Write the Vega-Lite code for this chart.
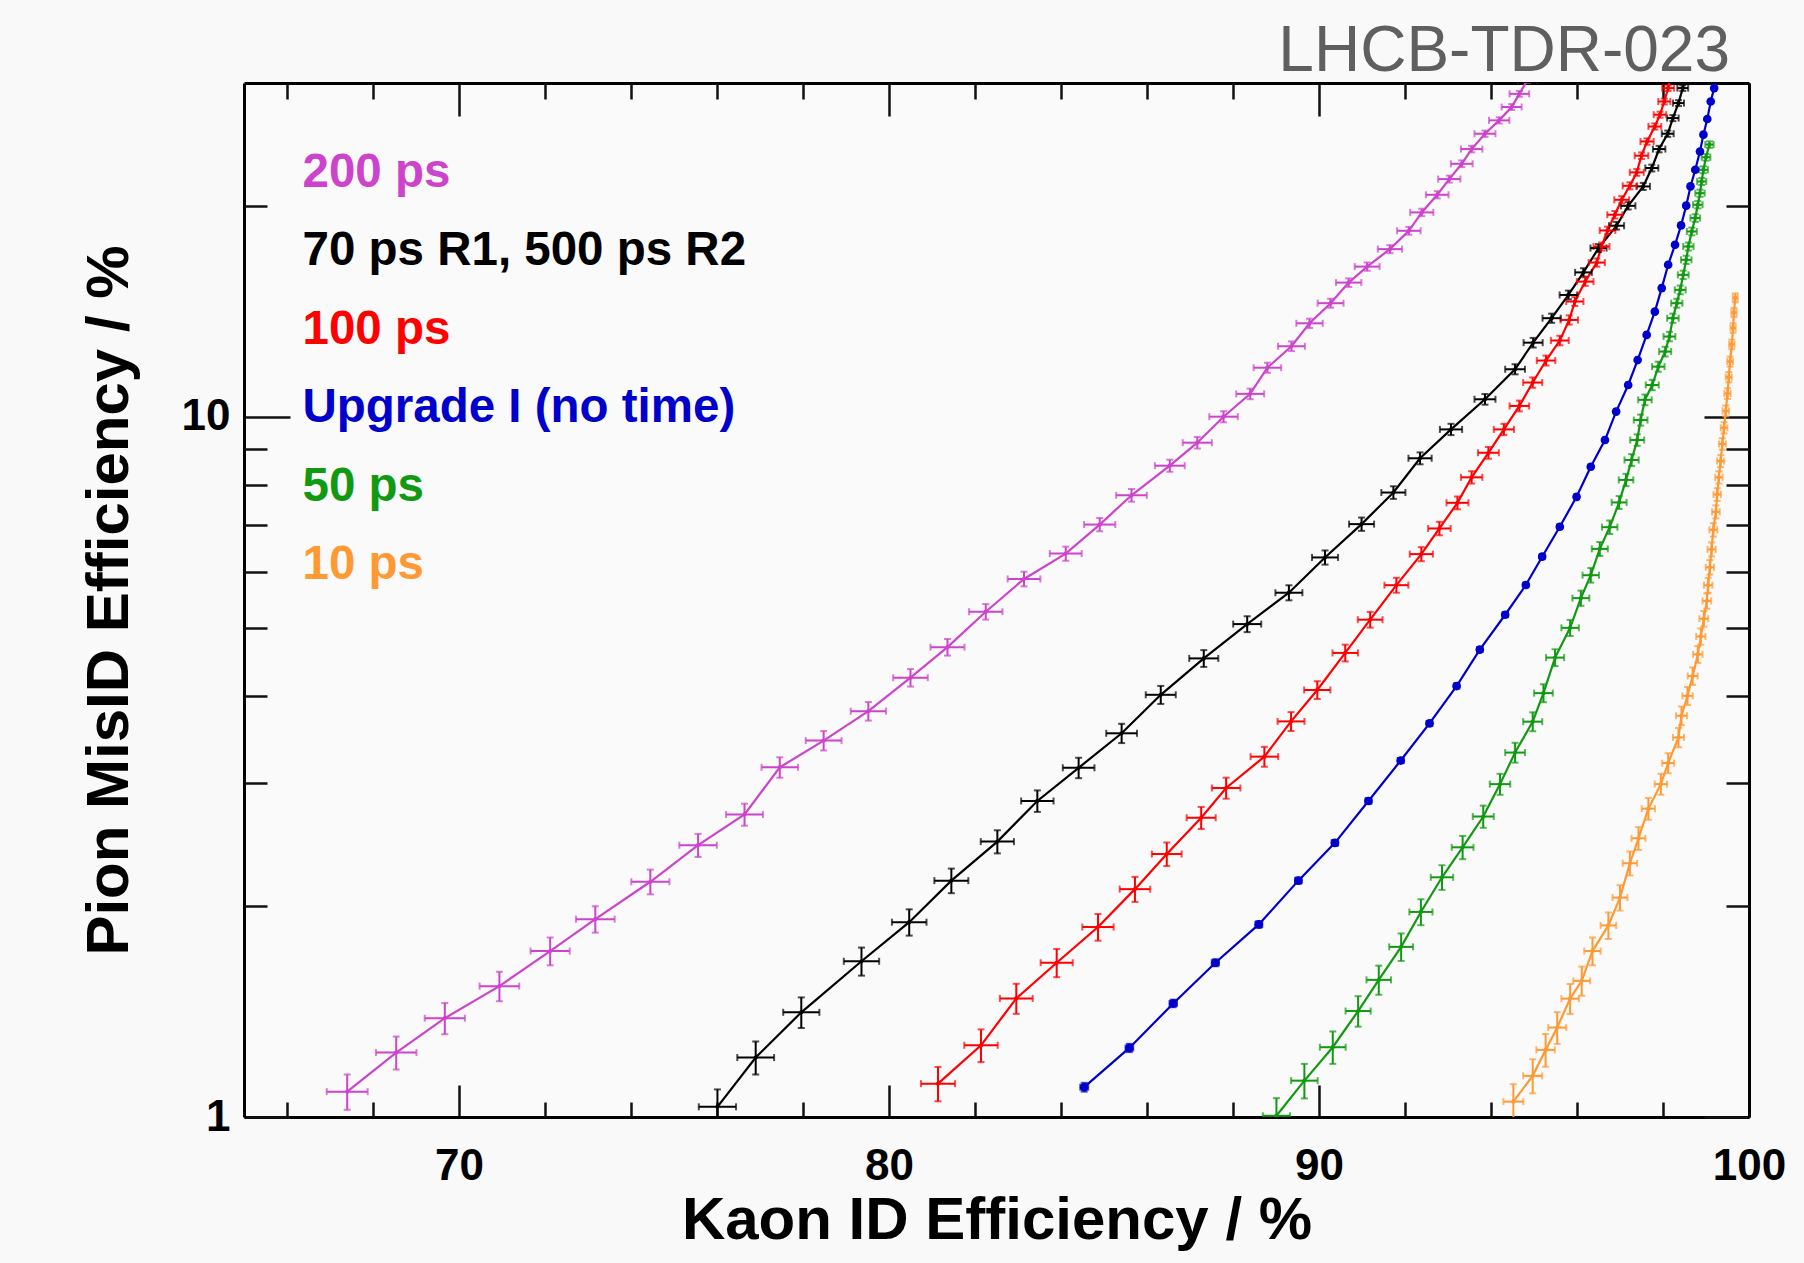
{
  "$schema": "https://vega.github.io/schema/vega-lite/v6.json",
  "width": 1505,
  "height": 1034,
  "autosize": {"type": "none"},
  "padding": {"left": 244, "top": 83, "right": 55, "bottom": 146},
  "background": "#f9f9f9",
  "config": {
    "view": {"stroke": null, "fill": "#fafafa"},
    "axis": {"labelFont": "Liberation Sans", "titleFont": "Liberation Sans", "grid": false}
  },
  "datasets": {
    "curves": [
      {"series": "200 ps", "kaon": 67.40, "pion": 1.087, "kaon_err": 0.476, "pion_err": 0.063},
      {"series": "200 ps", "kaon": 68.54, "pion": 1.236, "kaon_err": 0.471, "pion_err": 0.067},
      {"series": "200 ps", "kaon": 69.67, "pion": 1.384, "kaon_err": 0.467, "pion_err": 0.071},
      {"series": "200 ps", "kaon": 70.94, "pion": 1.538, "kaon_err": 0.461, "pion_err": 0.075},
      {"series": "200 ps", "kaon": 72.12, "pion": 1.726, "kaon_err": 0.455, "pion_err": 0.079},
      {"series": "200 ps", "kaon": 73.17, "pion": 1.917, "kaon_err": 0.450, "pion_err": 0.083},
      {"series": "200 ps", "kaon": 74.45, "pion": 2.168, "kaon_err": 0.443, "pion_err": 0.088},
      {"series": "200 ps", "kaon": 75.56, "pion": 2.445, "kaon_err": 0.436, "pion_err": 0.093},
      {"series": "200 ps", "kaon": 76.64, "pion": 2.705, "kaon_err": 0.429, "pion_err": 0.098},
      {"series": "200 ps", "kaon": 77.46, "pion": 3.159, "kaon_err": 0.424, "pion_err": 0.106},
      {"series": "200 ps", "kaon": 78.48, "pion": 3.449, "kaon_err": 0.417, "pion_err": 0.110},
      {"series": "200 ps", "kaon": 79.52, "pion": 3.80, "kaon_err": 0.410, "pion_err": 0.116},
      {"series": "200 ps", "kaon": 80.50, "pion": 4.242, "kaon_err": 0.402, "pion_err": 0.122},
      {"series": "200 ps", "kaon": 81.36, "pion": 4.69, "kaon_err": 0.395, "pion_err": 0.128},
      {"series": "200 ps", "kaon": 82.25, "pion": 5.27, "kaon_err": 0.388, "pion_err": 0.135},
      {"series": "200 ps", "kaon": 83.14, "pion": 5.87, "kaon_err": 0.380, "pion_err": 0.142},
      {"series": "200 ps", "kaon": 84.11, "pion": 6.38, "kaon_err": 0.371, "pion_err": 0.148},
      {"series": "200 ps", "kaon": 84.90, "pion": 7.02, "kaon_err": 0.363, "pion_err": 0.154},
      {"series": "200 ps", "kaon": 85.64, "pion": 7.73, "kaon_err": 0.356, "pion_err": 0.161},
      {"series": "200 ps", "kaon": 86.53, "pion": 8.52, "kaon_err": 0.347, "pion_err": 0.169},
      {"series": "200 ps", "kaon": 87.17, "pion": 9.19, "kaon_err": 0.339, "pion_err": 0.175},
      {"series": "200 ps", "kaon": 87.78, "pion": 10.01, "kaon_err": 0.332, "pion_err": 0.182},
      {"series": "200 ps", "kaon": 88.40, "pion": 10.79, "kaon_err": 0.325, "pion_err": 0.187},
      {"series": "200 ps", "kaon": 88.80, "pion": 11.76, "kaon_err": 0.320, "pion_err": 0.195},
      {"series": "200 ps", "kaon": 89.36, "pion": 12.62, "kaon_err": 0.313, "pion_err": 0.201},
      {"series": "200 ps", "kaon": 89.78, "pion": 13.61, "kaon_err": 0.307, "pion_err": 0.208},
      {"series": "200 ps", "kaon": 90.27, "pion": 14.54, "kaon_err": 0.301, "pion_err": 0.213},
      {"series": "200 ps", "kaon": 90.69, "pion": 15.56, "kaon_err": 0.295, "pion_err": 0.219},
      {"series": "200 ps", "kaon": 91.12, "pion": 16.40, "kaon_err": 0.289, "pion_err": 0.224},
      {"series": "200 ps", "kaon": 91.65, "pion": 17.37, "kaon_err": 0.281, "pion_err": 0.229},
      {"series": "200 ps", "kaon": 92.09, "pion": 18.45, "kaon_err": 0.274, "pion_err": 0.235},
      {"series": "200 ps", "kaon": 92.39, "pion": 19.60, "kaon_err": 0.269, "pion_err": 0.240},
      {"series": "200 ps", "kaon": 92.75, "pion": 20.77, "kaon_err": 0.263, "pion_err": 0.245},
      {"series": "200 ps", "kaon": 93.03, "pion": 21.87, "kaon_err": 0.258, "pion_err": 0.250},
      {"series": "200 ps", "kaon": 93.32, "pion": 23.0, "kaon_err": 0.253, "pion_err": 0.254},
      {"series": "200 ps", "kaon": 93.55, "pion": 24.14, "kaon_err": 0.249, "pion_err": 0.258},
      {"series": "200 ps", "kaon": 93.86, "pion": 25.39, "kaon_err": 0.244, "pion_err": 0.263},
      {"series": "200 ps", "kaon": 94.19, "pion": 26.53, "kaon_err": 0.237, "pion_err": 0.267},
      {"series": "200 ps", "kaon": 94.48, "pion": 27.72, "kaon_err": 0.232, "pion_err": 0.270},
      {"series": "200 ps", "kaon": 94.66, "pion": 28.95, "kaon_err": 0.228, "pion_err": 0.274},
      {"series": "200 ps", "kaon": 94.85, "pion": 30.3, "kaon_err": 0.224, "pion_err": 0.278},

      {"series": "70 ps R1, 500 ps R2", "kaon": 76.01, "pion": 1.034, "kaon_err": 0.433, "pion_err": 0.061},
      {"series": "70 ps R1, 500 ps R2", "kaon": 76.90, "pion": 1.216, "kaon_err": 0.428, "pion_err": 0.066},
      {"series": "70 ps R1, 500 ps R2", "kaon": 77.96, "pion": 1.411, "kaon_err": 0.421, "pion_err": 0.071},
      {"series": "70 ps R1, 500 ps R2", "kaon": 79.36, "pion": 1.669, "kaon_err": 0.411, "pion_err": 0.077},
      {"series": "70 ps R1, 500 ps R2", "kaon": 80.47, "pion": 1.898, "kaon_err": 0.402, "pion_err": 0.082},
      {"series": "70 ps R1, 500 ps R2", "kaon": 81.45, "pion": 2.176, "kaon_err": 0.395, "pion_err": 0.088},
      {"series": "70 ps R1, 500 ps R2", "kaon": 82.52, "pion": 2.474, "kaon_err": 0.386, "pion_err": 0.094},
      {"series": "70 ps R1, 500 ps R2", "kaon": 83.45, "pion": 2.828, "kaon_err": 0.377, "pion_err": 0.100},
      {"series": "70 ps R1, 500 ps R2", "kaon": 84.41, "pion": 3.154, "kaon_err": 0.368, "pion_err": 0.106},
      {"series": "70 ps R1, 500 ps R2", "kaon": 85.41, "pion": 3.533, "kaon_err": 0.358, "pion_err": 0.112},
      {"series": "70 ps R1, 500 ps R2", "kaon": 86.32, "pion": 4.01, "kaon_err": 0.349, "pion_err": 0.119},
      {"series": "70 ps R1, 500 ps R2", "kaon": 87.32, "pion": 4.52, "kaon_err": 0.338, "pion_err": 0.125},
      {"series": "70 ps R1, 500 ps R2", "kaon": 88.33, "pion": 5.06, "kaon_err": 0.326, "pion_err": 0.132},
      {"series": "70 ps R1, 500 ps R2", "kaon": 89.30, "pion": 5.61, "kaon_err": 0.314, "pion_err": 0.139},
      {"series": "70 ps R1, 500 ps R2", "kaon": 90.14, "pion": 6.30, "kaon_err": 0.303, "pion_err": 0.147},
      {"series": "70 ps R1, 500 ps R2", "kaon": 90.99, "pion": 7.03, "kaon_err": 0.291, "pion_err": 0.154},
      {"series": "70 ps R1, 500 ps R2", "kaon": 91.73, "pion": 7.80, "kaon_err": 0.280, "pion_err": 0.162},
      {"series": "70 ps R1, 500 ps R2", "kaon": 92.35, "pion": 8.73, "kaon_err": 0.270, "pion_err": 0.171},
      {"series": "70 ps R1, 500 ps R2", "kaon": 93.07, "pion": 9.60, "kaon_err": 0.258, "pion_err": 0.178},
      {"series": "70 ps R1, 500 ps R2", "kaon": 93.86, "pion": 10.60, "kaon_err": 0.244, "pion_err": 0.186},
      {"series": "70 ps R1, 500 ps R2", "kaon": 94.56, "pion": 11.70, "kaon_err": 0.230, "pion_err": 0.194},
      {"series": "70 ps R1, 500 ps R2", "kaon": 94.98, "pion": 12.77, "kaon_err": 0.222, "pion_err": 0.202},
      {"series": "70 ps R1, 500 ps R2", "kaon": 95.41, "pion": 13.84, "kaon_err": 0.212, "pion_err": 0.209},
      {"series": "70 ps R1, 500 ps R2", "kaon": 95.80, "pion": 14.94, "kaon_err": 0.204, "pion_err": 0.215},
      {"series": "70 ps R1, 500 ps R2", "kaon": 96.15, "pion": 16.09, "kaon_err": 0.195, "pion_err": 0.222},
      {"series": "70 ps R1, 500 ps R2", "kaon": 96.50, "pion": 17.43, "kaon_err": 0.187, "pion_err": 0.229},
      {"series": "70 ps R1, 500 ps R2", "kaon": 96.92, "pion": 18.76, "kaon_err": 0.175, "pion_err": 0.236},
      {"series": "70 ps R1, 500 ps R2", "kaon": 97.19, "pion": 20.03, "kaon_err": 0.168, "pion_err": 0.242},
      {"series": "70 ps R1, 500 ps R2", "kaon": 97.54, "pion": 21.35, "kaon_err": 0.157, "pion_err": 0.248},
      {"series": "70 ps R1, 500 ps R2", "kaon": 97.74, "pion": 22.68, "kaon_err": 0.151, "pion_err": 0.253},
      {"series": "70 ps R1, 500 ps R2", "kaon": 97.91, "pion": 24.14, "kaon_err": 0.145, "pion_err": 0.258},
      {"series": "70 ps R1, 500 ps R2", "kaon": 98.11, "pion": 25.39, "kaon_err": 0.138, "pion_err": 0.263},
      {"series": "70 ps R1, 500 ps R2", "kaon": 98.23, "pion": 26.73, "kaon_err": 0.134, "pion_err": 0.267},
      {"series": "70 ps R1, 500 ps R2", "kaon": 98.36, "pion": 28.08, "kaon_err": 0.129, "pion_err": 0.271},
      {"series": "70 ps R1, 500 ps R2", "kaon": 98.46, "pion": 29.5, "kaon_err": 0.125, "pion_err": 0.275},
      {"series": "70 ps R1, 500 ps R2", "kaon": 98.52, "pion": 30.6, "kaon_err": 0.123, "pion_err": 0.278},

      {"series": "100 ps", "kaon": 81.14, "pion": 1.116, "kaon_err": 0.397, "pion_err": 0.063},
      {"series": "100 ps", "kaon": 82.14, "pion": 1.266, "kaon_err": 0.389, "pion_err": 0.068},
      {"series": "100 ps", "kaon": 82.96, "pion": 1.477, "kaon_err": 0.382, "pion_err": 0.073},
      {"series": "100 ps", "kaon": 83.90, "pion": 1.661, "kaon_err": 0.373, "pion_err": 0.077},
      {"series": "100 ps", "kaon": 84.86, "pion": 1.868, "kaon_err": 0.364, "pion_err": 0.082},
      {"series": "100 ps", "kaon": 85.72, "pion": 2.116, "kaon_err": 0.355, "pion_err": 0.087},
      {"series": "100 ps", "kaon": 86.46, "pion": 2.375, "kaon_err": 0.347, "pion_err": 0.092},
      {"series": "100 ps", "kaon": 87.26, "pion": 2.676, "kaon_err": 0.338, "pion_err": 0.097},
      {"series": "100 ps", "kaon": 87.84, "pion": 2.951, "kaon_err": 0.332, "pion_err": 0.102},
      {"series": "100 ps", "kaon": 88.73, "pion": 3.272, "kaon_err": 0.321, "pion_err": 0.107},
      {"series": "100 ps", "kaon": 89.35, "pion": 3.674, "kaon_err": 0.313, "pion_err": 0.114},
      {"series": "100 ps", "kaon": 89.96, "pion": 4.074, "kaon_err": 0.305, "pion_err": 0.119},
      {"series": "100 ps", "kaon": 90.61, "pion": 4.602, "kaon_err": 0.296, "pion_err": 0.127},
      {"series": "100 ps", "kaon": 91.19, "pion": 5.134, "kaon_err": 0.288, "pion_err": 0.133},
      {"series": "100 ps", "kaon": 91.80, "pion": 5.751, "kaon_err": 0.278, "pion_err": 0.141},
      {"series": "100 ps", "kaon": 92.38, "pion": 6.37, "kaon_err": 0.269, "pion_err": 0.147},
      {"series": "100 ps", "kaon": 92.80, "pion": 6.93, "kaon_err": 0.262, "pion_err": 0.153},
      {"series": "100 ps", "kaon": 93.22, "pion": 7.54, "kaon_err": 0.255, "pion_err": 0.159},
      {"series": "100 ps", "kaon": 93.55, "pion": 8.20, "kaon_err": 0.249, "pion_err": 0.166},
      {"series": "100 ps", "kaon": 93.94, "pion": 8.89, "kaon_err": 0.242, "pion_err": 0.172},
      {"series": "100 ps", "kaon": 94.30, "pion": 9.60, "kaon_err": 0.235, "pion_err": 0.178},
      {"series": "100 ps", "kaon": 94.66, "pion": 10.37, "kaon_err": 0.228, "pion_err": 0.184},
      {"series": "100 ps", "kaon": 94.97, "pion": 11.20, "kaon_err": 0.222, "pion_err": 0.190},
      {"series": "100 ps", "kaon": 95.28, "pion": 12.04, "kaon_err": 0.215, "pion_err": 0.197},
      {"series": "100 ps", "kaon": 95.60, "pion": 12.86, "kaon_err": 0.208, "pion_err": 0.202},
      {"series": "100 ps", "kaon": 95.82, "pion": 13.76, "kaon_err": 0.203, "pion_err": 0.208},
      {"series": "100 ps", "kaon": 95.95, "pion": 14.62, "kaon_err": 0.200, "pion_err": 0.213},
      {"series": "100 ps", "kaon": 96.19, "pion": 15.61, "kaon_err": 0.194, "pion_err": 0.219},
      {"series": "100 ps", "kaon": 96.46, "pion": 16.62, "kaon_err": 0.188, "pion_err": 0.225},
      {"series": "100 ps", "kaon": 96.57, "pion": 17.52, "kaon_err": 0.185, "pion_err": 0.230},
      {"series": "100 ps", "kaon": 96.71, "pion": 18.47, "kaon_err": 0.181, "pion_err": 0.234},
      {"series": "100 ps", "kaon": 96.88, "pion": 19.45, "kaon_err": 0.176, "pion_err": 0.239},
      {"series": "100 ps", "kaon": 97.04, "pion": 20.43, "kaon_err": 0.172, "pion_err": 0.244},
      {"series": "100 ps", "kaon": 97.23, "pion": 21.39, "kaon_err": 0.167, "pion_err": 0.248},
      {"series": "100 ps", "kaon": 97.39, "pion": 22.36, "kaon_err": 0.162, "pion_err": 0.252},
      {"series": "100 ps", "kaon": 97.50, "pion": 23.62, "kaon_err": 0.158, "pion_err": 0.257},
      {"series": "100 ps", "kaon": 97.63, "pion": 24.75, "kaon_err": 0.154, "pion_err": 0.261},
      {"series": "100 ps", "kaon": 97.81, "pion": 26.0, "kaon_err": 0.149, "pion_err": 0.265},
      {"series": "100 ps", "kaon": 97.93, "pion": 27.03, "kaon_err": 0.145, "pion_err": 0.268},
      {"series": "100 ps", "kaon": 98.03, "pion": 28.23, "kaon_err": 0.141, "pion_err": 0.272},
      {"series": "100 ps", "kaon": 98.12, "pion": 29.5, "kaon_err": 0.138, "pion_err": 0.275},
      {"series": "100 ps", "kaon": 98.17, "pion": 30.6, "kaon_err": 0.136, "pion_err": 0.278},

      {"series": "Upgrade I (no time)", "kaon": 84.54, "pion": 1.103, "kaon_err": 0.092, "pion_err": 0.016},
      {"series": "Upgrade I (no time)", "kaon": 85.59, "pion": 1.255, "kaon_err": 0.089, "pion_err": 0.017},
      {"series": "Upgrade I (no time)", "kaon": 86.61, "pion": 1.453, "kaon_err": 0.086, "pion_err": 0.018},
      {"series": "Upgrade I (no time)", "kaon": 87.59, "pion": 1.661, "kaon_err": 0.084, "pion_err": 0.019},
      {"series": "Upgrade I (no time)", "kaon": 88.60, "pion": 1.884, "kaon_err": 0.081, "pion_err": 0.021},
      {"series": "Upgrade I (no time)", "kaon": 89.52, "pion": 2.176, "kaon_err": 0.078, "pion_err": 0.022},
      {"series": "Upgrade I (no time)", "kaon": 90.37, "pion": 2.464, "kaon_err": 0.075, "pion_err": 0.023},
      {"series": "Upgrade I (no time)", "kaon": 91.15, "pion": 2.828, "kaon_err": 0.072, "pion_err": 0.025},
      {"series": "Upgrade I (no time)", "kaon": 91.90, "pion": 3.23, "kaon_err": 0.069, "pion_err": 0.027},
      {"series": "Upgrade I (no time)", "kaon": 92.57, "pion": 3.65, "kaon_err": 0.067, "pion_err": 0.028},
      {"series": "Upgrade I (no time)", "kaon": 93.20, "pion": 4.127, "kaon_err": 0.064, "pion_err": 0.030},
      {"series": "Upgrade I (no time)", "kaon": 93.74, "pion": 4.653, "kaon_err": 0.061, "pion_err": 0.032},
      {"series": "Upgrade I (no time)", "kaon": 94.33, "pion": 5.218, "kaon_err": 0.059, "pion_err": 0.034},
      {"series": "Upgrade I (no time)", "kaon": 94.81, "pion": 5.754, "kaon_err": 0.056, "pion_err": 0.035},
      {"series": "Upgrade I (no time)", "kaon": 95.19, "pion": 6.316, "kaon_err": 0.054, "pion_err": 0.037},
      {"series": "Upgrade I (no time)", "kaon": 95.60, "pion": 6.97, "kaon_err": 0.052, "pion_err": 0.038},
      {"series": "Upgrade I (no time)", "kaon": 95.99, "pion": 7.69, "kaon_err": 0.050, "pion_err": 0.040},
      {"series": "Upgrade I (no time)", "kaon": 96.32, "pion": 8.49, "kaon_err": 0.048, "pion_err": 0.042},
      {"series": "Upgrade I (no time)", "kaon": 96.65, "pion": 9.27, "kaon_err": 0.046, "pion_err": 0.044},
      {"series": "Upgrade I (no time)", "kaon": 96.91, "pion": 10.18, "kaon_err": 0.044, "pion_err": 0.046},
      {"series": "Upgrade I (no time)", "kaon": 97.19, "pion": 11.11, "kaon_err": 0.042, "pion_err": 0.047},
      {"series": "Upgrade I (no time)", "kaon": 97.41, "pion": 12.06, "kaon_err": 0.040, "pion_err": 0.049},
      {"series": "Upgrade I (no time)", "kaon": 97.62, "pion": 13.10, "kaon_err": 0.039, "pion_err": 0.051},
      {"series": "Upgrade I (no time)", "kaon": 97.81, "pion": 14.14, "kaon_err": 0.037, "pion_err": 0.053},
      {"series": "Upgrade I (no time)", "kaon": 97.97, "pion": 15.28, "kaon_err": 0.036, "pion_err": 0.054},
      {"series": "Upgrade I (no time)", "kaon": 98.12, "pion": 16.50, "kaon_err": 0.034, "pion_err": 0.056},
      {"series": "Upgrade I (no time)", "kaon": 98.28, "pion": 17.62, "kaon_err": 0.033, "pion_err": 0.058},
      {"series": "Upgrade I (no time)", "kaon": 98.42, "pion": 18.78, "kaon_err": 0.032, "pion_err": 0.059},
      {"series": "Upgrade I (no time)", "kaon": 98.54, "pion": 20.04, "kaon_err": 0.030, "pion_err": 0.060},
      {"series": "Upgrade I (no time)", "kaon": 98.64, "pion": 21.35, "kaon_err": 0.029, "pion_err": 0.062},
      {"series": "Upgrade I (no time)", "kaon": 98.75, "pion": 22.55, "kaon_err": 0.028, "pion_err": 0.063},
      {"series": "Upgrade I (no time)", "kaon": 98.86, "pion": 23.95, "kaon_err": 0.027, "pion_err": 0.064},
      {"series": "Upgrade I (no time)", "kaon": 98.94, "pion": 25.31, "kaon_err": 0.026, "pion_err": 0.066},
      {"series": "Upgrade I (no time)", "kaon": 99.03, "pion": 26.65, "kaon_err": 0.025, "pion_err": 0.067},
      {"series": "Upgrade I (no time)", "kaon": 99.11, "pion": 28.23, "kaon_err": 0.024, "pion_err": 0.068},
      {"series": "Upgrade I (no time)", "kaon": 99.19, "pion": 29.5, "kaon_err": 0.023, "pion_err": 0.069},
      {"series": "Upgrade I (no time)", "kaon": 99.24, "pion": 30.7, "kaon_err": 0.022, "pion_err": 0.070},

      {"series": "50 ps", "kaon": 89.01, "pion": 1.004, "kaon_err": 0.317, "pion_err": 0.060},
      {"series": "50 ps", "kaon": 89.66, "pion": 1.127, "kaon_err": 0.309, "pion_err": 0.064},
      {"series": "50 ps", "kaon": 90.32, "pion": 1.258, "kaon_err": 0.300, "pion_err": 0.067},
      {"series": "50 ps", "kaon": 90.91, "pion": 1.417, "kaon_err": 0.292, "pion_err": 0.071},
      {"series": "50 ps", "kaon": 91.39, "pion": 1.570, "kaon_err": 0.285, "pion_err": 0.075},
      {"series": "50 ps", "kaon": 91.91, "pion": 1.750, "kaon_err": 0.277, "pion_err": 0.079},
      {"series": "50 ps", "kaon": 92.37, "pion": 1.963, "kaon_err": 0.269, "pion_err": 0.084},
      {"series": "50 ps", "kaon": 92.86, "pion": 2.20, "kaon_err": 0.261, "pion_err": 0.089},
      {"series": "50 ps", "kaon": 93.34, "pion": 2.428, "kaon_err": 0.253, "pion_err": 0.093},
      {"series": "50 ps", "kaon": 93.82, "pion": 2.687, "kaon_err": 0.244, "pion_err": 0.098},
      {"series": "50 ps", "kaon": 94.21, "pion": 2.989, "kaon_err": 0.237, "pion_err": 0.103},
      {"series": "50 ps", "kaon": 94.56, "pion": 3.316, "kaon_err": 0.230, "pion_err": 0.108},
      {"series": "50 ps", "kaon": 94.97, "pion": 3.671, "kaon_err": 0.222, "pion_err": 0.114},
      {"series": "50 ps", "kaon": 95.22, "pion": 4.032, "kaon_err": 0.217, "pion_err": 0.119},
      {"series": "50 ps", "kaon": 95.49, "pion": 4.532, "kaon_err": 0.211, "pion_err": 0.126},
      {"series": "50 ps", "kaon": 95.84, "pion": 4.998, "kaon_err": 0.203, "pion_err": 0.132},
      {"series": "50 ps", "kaon": 96.09, "pion": 5.511, "kaon_err": 0.197, "pion_err": 0.138},
      {"series": "50 ps", "kaon": 96.32, "pion": 5.943, "kaon_err": 0.191, "pion_err": 0.143},
      {"series": "50 ps", "kaon": 96.53, "pion": 6.48, "kaon_err": 0.186, "pion_err": 0.149},
      {"series": "50 ps", "kaon": 96.76, "pion": 6.96, "kaon_err": 0.180, "pion_err": 0.154},
      {"series": "50 ps", "kaon": 96.98, "pion": 7.55, "kaon_err": 0.174, "pion_err": 0.160},
      {"series": "50 ps", "kaon": 97.14, "pion": 8.13, "kaon_err": 0.169, "pion_err": 0.165},
      {"series": "50 ps", "kaon": 97.27, "pion": 8.68, "kaon_err": 0.165, "pion_err": 0.170},
      {"series": "50 ps", "kaon": 97.40, "pion": 9.27, "kaon_err": 0.162, "pion_err": 0.175},
      {"series": "50 ps", "kaon": 97.48, "pion": 9.90, "kaon_err": 0.159, "pion_err": 0.180},
      {"series": "50 ps", "kaon": 97.58, "pion": 10.58, "kaon_err": 0.156, "pion_err": 0.186},
      {"series": "50 ps", "kaon": 97.75, "pion": 11.11, "kaon_err": 0.151, "pion_err": 0.190},
      {"series": "50 ps", "kaon": 97.89, "pion": 11.80, "kaon_err": 0.146, "pion_err": 0.195},
      {"series": "50 ps", "kaon": 98.05, "pion": 12.40, "kaon_err": 0.140, "pion_err": 0.199},
      {"series": "50 ps", "kaon": 98.15, "pion": 13.03, "kaon_err": 0.137, "pion_err": 0.203},
      {"series": "50 ps", "kaon": 98.23, "pion": 13.84, "kaon_err": 0.134, "pion_err": 0.209},
      {"series": "50 ps", "kaon": 98.32, "pion": 14.54, "kaon_err": 0.130, "pion_err": 0.213},
      {"series": "50 ps", "kaon": 98.40, "pion": 15.19, "kaon_err": 0.127, "pion_err": 0.217},
      {"series": "50 ps", "kaon": 98.47, "pion": 15.96, "kaon_err": 0.125, "pion_err": 0.221},
      {"series": "50 ps", "kaon": 98.54, "pion": 16.77, "kaon_err": 0.122, "pion_err": 0.226},
      {"series": "50 ps", "kaon": 98.59, "pion": 17.52, "kaon_err": 0.120, "pion_err": 0.230},
      {"series": "50 ps", "kaon": 98.67, "pion": 18.41, "kaon_err": 0.116, "pion_err": 0.234},
      {"series": "50 ps", "kaon": 98.75, "pion": 19.24, "kaon_err": 0.113, "pion_err": 0.238},
      {"series": "50 ps", "kaon": 98.81, "pion": 20.10, "kaon_err": 0.110, "pion_err": 0.242},
      {"series": "50 ps", "kaon": 98.86, "pion": 20.88, "kaon_err": 0.108, "pion_err": 0.246},
      {"series": "50 ps", "kaon": 98.90, "pion": 21.70, "kaon_err": 0.106, "pion_err": 0.249},
      {"series": "50 ps", "kaon": 98.94, "pion": 22.55, "kaon_err": 0.104, "pion_err": 0.252},
      {"series": "50 ps", "kaon": 99.00, "pion": 23.5, "kaon_err": 0.101, "pion_err": 0.256},
      {"series": "50 ps", "kaon": 99.08, "pion": 24.5, "kaon_err": 0.097, "pion_err": 0.260},

      {"series": "10 ps", "kaon": 94.52, "pion": 1.052, "kaon_err": 0.231, "pion_err": 0.062},
      {"series": "10 ps", "kaon": 94.97, "pion": 1.145, "kaon_err": 0.222, "pion_err": 0.064},
      {"series": "10 ps", "kaon": 95.27, "pion": 1.247, "kaon_err": 0.215, "pion_err": 0.067},
      {"series": "10 ps", "kaon": 95.54, "pion": 1.342, "kaon_err": 0.210, "pion_err": 0.070},
      {"series": "10 ps", "kaon": 95.84, "pion": 1.476, "kaon_err": 0.203, "pion_err": 0.073},
      {"series": "10 ps", "kaon": 96.11, "pion": 1.565, "kaon_err": 0.196, "pion_err": 0.075},
      {"series": "10 ps", "kaon": 96.36, "pion": 1.726, "kaon_err": 0.190, "pion_err": 0.079},
      {"series": "10 ps", "kaon": 96.73, "pion": 1.878, "kaon_err": 0.181, "pion_err": 0.082},
      {"series": "10 ps", "kaon": 97.00, "pion": 2.058, "kaon_err": 0.173, "pion_err": 0.086},
      {"series": "10 ps", "kaon": 97.23, "pion": 2.304, "kaon_err": 0.167, "pion_err": 0.091},
      {"series": "10 ps", "kaon": 97.43, "pion": 2.501, "kaon_err": 0.161, "pion_err": 0.094},
      {"series": "10 ps", "kaon": 97.66, "pion": 2.757, "kaon_err": 0.153, "pion_err": 0.099},
      {"series": "10 ps", "kaon": 97.95, "pion": 2.989, "kaon_err": 0.144, "pion_err": 0.103},
      {"series": "10 ps", "kaon": 98.12, "pion": 3.203, "kaon_err": 0.138, "pion_err": 0.106},
      {"series": "10 ps", "kaon": 98.36, "pion": 3.485, "kaon_err": 0.129, "pion_err": 0.111},
      {"series": "10 ps", "kaon": 98.43, "pion": 3.743, "kaon_err": 0.126, "pion_err": 0.115},
      {"series": "10 ps", "kaon": 98.57, "pion": 3.996, "kaon_err": 0.120, "pion_err": 0.118},
      {"series": "10 ps", "kaon": 98.69, "pion": 4.265, "kaon_err": 0.115, "pion_err": 0.122},
      {"series": "10 ps", "kaon": 98.81, "pion": 4.58, "kaon_err": 0.110, "pion_err": 0.126},
      {"series": "10 ps", "kaon": 98.88, "pion": 4.858, "kaon_err": 0.107, "pion_err": 0.130},
      {"series": "10 ps", "kaon": 98.95, "pion": 5.15, "kaon_err": 0.103, "pion_err": 0.133},
      {"series": "10 ps", "kaon": 99.02, "pion": 5.46, "kaon_err": 0.100, "pion_err": 0.137},
      {"series": "10 ps", "kaon": 99.05, "pion": 5.75, "kaon_err": 0.098, "pion_err": 0.141},
      {"series": "10 ps", "kaon": 99.09, "pion": 6.10, "kaon_err": 0.096, "pion_err": 0.145},
      {"series": "10 ps", "kaon": 99.13, "pion": 6.47, "kaon_err": 0.094, "pion_err": 0.149},
      {"series": "10 ps", "kaon": 99.17, "pion": 6.90, "kaon_err": 0.092, "pion_err": 0.153},
      {"series": "10 ps", "kaon": 99.23, "pion": 7.32, "kaon_err": 0.089, "pion_err": 0.157},
      {"series": "10 ps", "kaon": 99.26, "pion": 7.75, "kaon_err": 0.087, "pion_err": 0.162},
      {"series": "10 ps", "kaon": 99.30, "pion": 8.2, "kaon_err": 0.085, "pion_err": 0.166},
      {"series": "10 ps", "kaon": 99.34, "pion": 8.65, "kaon_err": 0.082, "pion_err": 0.170},
      {"series": "10 ps", "kaon": 99.38, "pion": 9.15, "kaon_err": 0.080, "pion_err": 0.174},
      {"series": "10 ps", "kaon": 99.42, "pion": 9.65, "kaon_err": 0.077, "pion_err": 0.178},
      {"series": "10 ps", "kaon": 99.46, "pion": 10.2, "kaon_err": 0.074, "pion_err": 0.183},
      {"series": "10 ps", "kaon": 99.50, "pion": 10.8, "kaon_err": 0.072, "pion_err": 0.187},
      {"series": "10 ps", "kaon": 99.53, "pion": 11.4, "kaon_err": 0.069, "pion_err": 0.192},
      {"series": "10 ps", "kaon": 99.56, "pion": 12.0, "kaon_err": 0.067, "pion_err": 0.196},
      {"series": "10 ps", "kaon": 99.60, "pion": 12.7, "kaon_err": 0.064, "pion_err": 0.201},
      {"series": "10 ps", "kaon": 99.63, "pion": 13.4, "kaon_err": 0.062, "pion_err": 0.206},
      {"series": "10 ps", "kaon": 99.65, "pion": 14.1, "kaon_err": 0.060, "pion_err": 0.210},
      {"series": "10 ps", "kaon": 99.68, "pion": 14.8, "kaon_err": 0.057, "pion_err": 0.214}
    ]
  },
  "data": {"name": "curves"},
  "layer": [
    {
      "mark": {"type": "line", "strokeWidth": 2.2, "clip": true},
      "encoding": {
        "x": {
          "field": "kaon", "type": "quantitative",
          "scale": {"domain": [65, 100], "nice": false, "zero": false},
          "axis": {
            "orient": "bottom", "values": [70, 80, 90, 100], "format": "d", "labelFlush": false,
            "tickSize": -32, "tickWidth": 2.5, "tickColor": "#111111",
            "domain": true, "domainWidth": 3, "domainColor": "#000000",
            "labelFontSize": 44, "labelFontWeight": "bold", "labelColor": "#000000", "labelPadding": 59,
            "title": "Kaon ID Efficiency / %", "titleFontSize": 60, "titleFontWeight": "bold", "titleColor": "#000000",
            "titleBaseline": "alphabetic", "titleY": 121
          }
        },
        "y": {
          "field": "pion", "type": "quantitative",
          "scale": {"type": "log", "domain": [1, 30], "nice": false},
          "axis": {
            "orient": "left", "values": [1, 10], "format": "d", "labelFlush": false,
            "tickSize": -46, "tickWidth": 2.5, "tickColor": "#111111",
            "domain": true, "domainWidth": 3, "domainColor": "#000000",
            "labelFontSize": 44, "labelFontWeight": "bold", "labelColor": "#000000", "labelPadding": 60,
            "title": "Pion MisID Efficiency / %", "titleFontSize": 60, "titleFontWeight": "bold", "titleColor": "#000000",
            "titleBaseline": "alphabetic", "titleX": -117
          }
        },
        "color": {
          "field": "series", "type": "nominal",
          "scale": {
            "domain": ["200 ps", "70 ps R1, 500 ps R2", "100 ps", "Upgrade I (no time)", "50 ps", "10 ps"],
            "range": ["#cc44cc", "#000000", "#ff0000", "#0000cc", "#119911", "#ff9933"]
          },
          "legend": {
            "orient": "none", "legendX": 11, "legendY": 66, "title": null, "padding": 0,
            "labelFont": "Liberation Sans", "labelFontSize": 47.5, "labelFontWeight": "bold",
            "labelColor": {"expr": "scale('color', datum.value)"},
            "labelLimit": 1000, "labelOffset": 0,
            "symbolOpacity": 0, "symbolSize": 0, "symbolStrokeWidth": 0,
            "rowPadding": 29.5
          }
        }
      }
    },
    {
      "mark": {"type": "errorbar", "ticks": true, "size": 7, "thickness": 2, "clip": true},
      "encoding": {
        "x": {"field": "kaon", "type": "quantitative", "scale": {"domain": [65, 100], "nice": false, "zero": false}, "axis": null},
        "xError": {"field": "kaon_err"},
        "y": {"field": "pion", "type": "quantitative", "scale": {"type": "log", "domain": [1, 30], "nice": false}, "axis": null},
        "color": {"field": "series", "type": "nominal", "legend": null}
      }
    },
    {
      "mark": {"type": "errorbar", "ticks": true, "size": 7, "thickness": 2, "clip": true},
      "encoding": {
        "x": {"field": "kaon", "type": "quantitative", "scale": {"domain": [65, 100], "nice": false, "zero": false}, "axis": null},
        "y": {"field": "pion", "type": "quantitative", "scale": {"type": "log", "domain": [1, 30], "nice": false}, "axis": null},
        "yError": {"field": "pion_err"},
        "color": {"field": "series", "type": "nominal", "legend": null}
      }
    },
    {
      "mark": {"type": "circle", "opacity": 1, "clip": true},
      "encoding": {
        "x": {
          "field": "kaon", "type": "quantitative",
          "scale": {"domain": [65, 100], "nice": false, "zero": false},
          "axis": {
            "orient": "bottom", "values": [66, 68, 72, 74, 76, 78, 82, 84, 86, 88, 92, 94, 96, 98],
            "tickSize": -15, "tickWidth": 2.5, "tickColor": "#111111",
            "domain": false, "labels": false, "title": null
          }
        },
        "y": {
          "field": "pion", "type": "quantitative",
          "scale": {"type": "log", "domain": [1, 30], "nice": false},
          "axis": {
            "orient": "left", "values": [2, 3, 4, 5, 6, 7, 8, 9, 20],
            "tickSize": -23, "tickWidth": 2.5, "tickColor": "#111111",
            "domain": false, "labels": false, "title": null
          }
        },
        "color": {"field": "series", "type": "nominal", "legend": null},
        "size": {"condition": {"test": "datum.series === 'Upgrade I (no time)'", "value": 75}, "value": 18}
      }
    },
    {
      "mark": {"type": "point", "opacity": 0, "clip": true},
      "encoding": {
        "x": {
          "field": "kaon", "type": "quantitative",
          "scale": {"domain": [65, 100], "nice": false, "zero": false},
          "axis": {
            "orient": "top", "values": [70, 80, 90, 100],
            "tickSize": -33, "tickWidth": 2.5, "tickColor": "#111111",
            "domain": true, "domainWidth": 3, "domainColor": "#000000", "labels": false, "title": null
          }
        },
        "y": {
          "field": "pion", "type": "quantitative",
          "scale": {"type": "log", "domain": [1, 30], "nice": false},
          "axis": {
            "orient": "right", "values": [1, 10],
            "tickSize": -45, "tickWidth": 2.5, "tickColor": "#111111",
            "domain": true, "domainWidth": 3, "domainColor": "#000000", "labels": false, "title": null
          }
        }
      }
    },
    {
      "mark": {"type": "point", "opacity": 0, "clip": true},
      "encoding": {
        "x": {
          "field": "kaon", "type": "quantitative",
          "scale": {"domain": [65, 100], "nice": false, "zero": false},
          "axis": {
            "orient": "top", "values": [66, 68, 72, 74, 76, 78, 82, 84, 86, 88, 92, 94, 96, 98],
            "tickSize": -16, "tickWidth": 2.5, "tickColor": "#111111",
            "domain": false, "labels": false, "title": null
          }
        },
        "y": {
          "field": "pion", "type": "quantitative",
          "scale": {"type": "log", "domain": [1, 30], "nice": false},
          "axis": {
            "orient": "right", "values": [2, 3, 4, 5, 6, 7, 8, 9, 20],
            "tickSize": -23, "tickWidth": 2.5, "tickColor": "#111111",
            "domain": false, "labels": false, "title": null
          }
        }
      }
    },
    {
      "data": {"values": [{"label": "LHCB-TDR-023"}]},
      "mark": {
        "type": "text", "align": "right", "baseline": "alphabetic", "dx": -19, "dy": -12.5,
        "font": "Liberation Sans", "fontSize": 64, "color": "#5f5f5f"
      },
      "encoding": {
        "text": {"field": "label"},
        "x": {"datum": 100, "type": "quantitative", "scale": {"domain": [65, 100], "nice": false, "zero": false}, "axis": null},
        "y": {"datum": 30, "type": "quantitative", "scale": {"type": "log", "domain": [1, 30], "nice": false}, "axis": null}
      }
    }
  ],
  "resolve": {"axis": {"x": "independent", "y": "independent"}}
}
